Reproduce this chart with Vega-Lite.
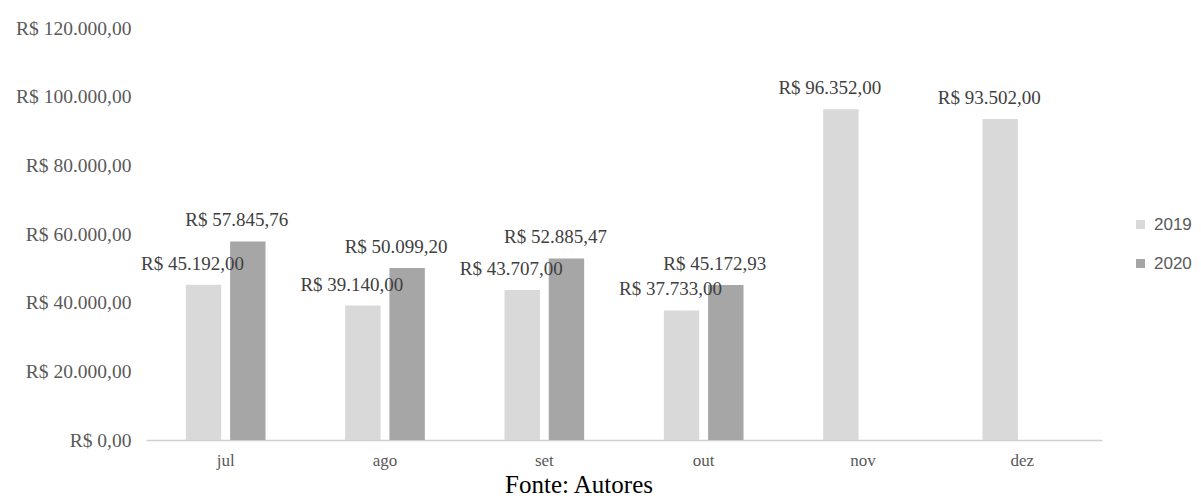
{
  "$schema": "https://vega.github.io/schema/vega-lite/v6.json",
  "width": 956,
  "height": 412,
  "autosize": {"type": "none"},
  "padding": {"left": 146, "top": 28, "right": 99, "bottom": 62},
  "background": "white",
  "config": {
    "view": {"stroke": null},
    "locale": {
      "number": {"decimal": ",", "thousands": ".", "grouping": [3], "currency": ["R$ ", ""]}
    }
  },
  "title": {
    "text": "Fonte: Autores",
    "orient": "bottom",
    "anchor": "middle",
    "frame": "group",
    "font": "Liberation Serif",
    "fontSize": 25,
    "fontWeight": "normal",
    "color": "#000000",
    "offset": 5,
    "dx": -45
  },
  "data": {
    "values": [
      {"mes": "jul", "ano": "2019", "valor": 45192.00},
      {"mes": "jul", "ano": "2020", "valor": 57845.76},
      {"mes": "ago", "ano": "2019", "valor": 39140.00},
      {"mes": "ago", "ano": "2020", "valor": 50099.20},
      {"mes": "set", "ano": "2019", "valor": 43707.00},
      {"mes": "set", "ano": "2020", "valor": 52885.47},
      {"mes": "out", "ano": "2019", "valor": 37733.00},
      {"mes": "out", "ano": "2020", "valor": 45172.93},
      {"mes": "nov", "ano": "2019", "valor": 96352.00},
      {"mes": "dez", "ano": "2019", "valor": 93502.00}
    ]
  },
  "encoding": {
    "x": {
      "field": "mes",
      "type": "nominal",
      "sort": ["jul", "ago", "set", "out", "nov", "dez"],
      "scale": {"paddingInner": 0.5, "paddingOuter": 0.25},
      "axis": {
        "title": null,
        "labelAngle": 0,
        "labelFont": "Liberation Serif",
        "labelFontSize": 17,
        "labelColor": "#595959",
        "labelPadding": 12,
        "ticks": false,
        "domainColor": "#d0d0d0",
        "domainWidth": 1.5
      }
    },
    "xOffset": {
      "field": "ano",
      "type": "nominal",
      "scale": {"domain": ["2019", "2020"], "paddingInner": 0.2, "paddingOuter": 0}
    },
    "y": {
      "field": "valor",
      "type": "quantitative",
      "scale": {"domain": [0, 120000], "nice": false},
      "axis": {
        "title": null,
        "values": [0, 20000, 40000, 60000, 80000, 100000, 120000],
        "format": "$,.2f",
        "grid": false,
        "domain": false,
        "ticks": false,
        "labelFont": "Liberation Serif",
        "labelFontSize": 19.5,
        "labelColor": "#595959",
        "labelPadding": 15
      }
    }
  },
  "layer": [
    {
      "mark": {"type": "bar"},
      "encoding": {
        "color": {
          "field": "ano",
          "type": "nominal",
          "scale": {"domain": ["2019", "2020"], "range": ["#d9d9d9", "#a6a6a6"]},
          "legend": {
            "title": null,
            "orient": "none",
            "legendX": 986,
            "legendY": 188,
            "symbolType": "square",
            "symbolSize": 81,
            "symbolStrokeWidth": 0,
            "labelFont": "Liberation Sans",
            "labelFontSize": 17,
            "labelColor": "#595959",
            "rowPadding": 21,
            "labelOffset": 5
          }
        }
      }
    },
    {
      "mark": {
        "type": "text",
        "baseline": "middle",
        "align": "center",
        "dx": -11,
        "dy": -21,
        "font": "Liberation Serif",
        "fontSize": 19,
        "color": "#404040"
      },
      "encoding": {
        "text": {"field": "valor", "type": "quantitative", "format": "$,.2f"}
      }
    }
  ]
}
